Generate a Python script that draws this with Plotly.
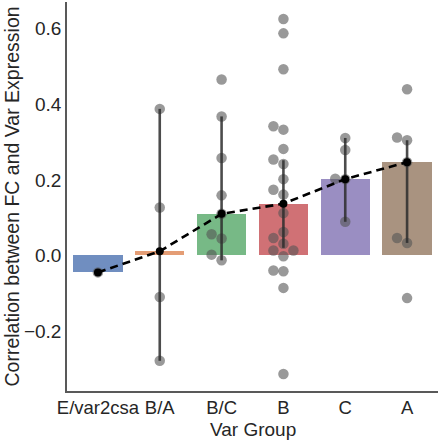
import plotly.graph_objects as go

categories = ["E/var2csa", "B/A", "B/C", "B", "C", "A"]

pts_e_var2csa = [-0.045]
pts_b_a = [0.388, 0.127, -0.110, -0.279]
pts_b_c = [0.466, 0.368, 0.258, 0.159, 0.110, 0.056, 0.045, 0.002, -0.013]
pts_b = [0.626, 0.588, 0.493, 0.342, 0.333, 0.282, 0.254, 0.242, 0.202, 0.174,
         0.161, 0.112, 0.062, 0.046, 0.031, 0.013, 0.013, -0.002, -0.040,
         -0.042, -0.086, -0.314]
pts_c = [0.311, 0.279, 0.203, 0.202, 0.089]
pts_a = [0.440, 0.312, 0.305, 0.247, 0.046, 0.033, -0.113]

group_points = [pts_e_var2csa, pts_b_a, pts_b_c, pts_b, pts_c, pts_a]

medians = [-0.045, 0.011, 0.110, 0.137, 0.202, 0.247]
ci_low = [None, -0.279, -0.013, 0.020, 0.089, 0.033]
ci_high = [None, 0.388, 0.368, 0.252, 0.311, 0.305]

bar_colors = ["rgba(76,114,176,0.8)", "rgba(221,132,82,0.8)", "rgba(85,168,104,0.8)",
              "rgba(196,78,82,0.8)", "rgba(129,114,179,0.8)", "rgba(147,120,96,0.8)"]

# layout constants
Y_RANGE = [-0.359, 0.671]
PLOT_W = 440 - 67 - 2
PLOT_H = 440 - 2 - 49
px_per_y = PLOT_H / (Y_RANGE[1] - Y_RANGE[0])
px_per_x = PLOT_W / 6.0
DIAM = 10.5


def swarm(values, center):
    placed = []
    order = sorted(range(len(values)), key=lambda i: values[i])
    xs = [0.0] * len(values)
    for i in order:
        y = values[i]
        for k in [0, -1, 1, -2, 2, -3, 3]:
            ox = k * 10.0
            ok = True
            for (px, py) in placed:
                dx = ox - px
                dy = (y - py) * px_per_y
                if dx * dx + dy * dy < 9.5 ** 2:
                    ok = False
                    break
            if ok:
                placed.append((ox, y))
                xs[i] = center + ox / px_per_x
                break
    return xs


fig = go.Figure()

fig.add_trace(go.Bar(
    x=list(range(len(categories))), y=medians, width=0.8,
    marker=dict(color=bar_colors, line=dict(width=0)), showlegend=False,
))

sx, sy = [], []
for i, vals in enumerate(group_points):
    sx += swarm(vals, i)
    sy += vals
fig.add_trace(go.Scatter(
    x=sx, y=sy, mode="markers",
    marker=dict(size=DIAM, color="rgba(85,85,85,0.6)", line=dict(width=0)),
    showlegend=False,
))

ex, ey = [], []
for i in range(len(categories)):
    if ci_low[i] is None:
        continue
    ex += [i, i, None]
    ey += [ci_low[i], ci_high[i], None]
fig.add_trace(go.Scatter(
    x=ex, y=ey, mode="lines",
    line=dict(color="rgba(45,45,45,0.85)", width=2.6), showlegend=False,
))

fig.add_trace(go.Scatter(
    x=list(range(len(categories))), y=medians, mode="lines+markers",
    line=dict(color="black", width=2.6, dash="8px,5px"),
    marker=dict(size=8, color="black"), showlegend=False,
))

font_family = "Liberation Sans, Arial, sans-serif"
text_color = "#262626"
fig.update_layout(
    width=440, height=440,
    margin=dict(l=67, r=2, t=2, b=49),
    plot_bgcolor="white", paper_bgcolor="white",
    font=dict(family=font_family, size=18.5, color=text_color),
    bargap=0,
    xaxis=dict(
        range=[-0.5, 5.5], tickmode="array", tickvals=list(range(len(categories))),
        ticktext=categories, showgrid=False, zeroline=False,
        showline=True, linecolor="#595959", linewidth=1.5, ticks="",
        tickfont=dict(size=18.5), ticklabelstandoff=-1,
    ),
    yaxis=dict(
        range=Y_RANGE, tickmode="array", tickvals=[-0.2, 0.0, 0.2, 0.4, 0.6],
        ticktext=["\u22120.2", "0.0", "0.2", "0.4", "0.6"],
        showgrid=False, zeroline=False,
        showline=True, linecolor="#595959", linewidth=1.5, ticks="",
        ticklabelstandoff=0, tickfont=dict(size=19),
    ),
    annotations=[
        dict(text="Var Group", xref="paper", yref="paper", x=0.5, y=0,
             xanchor="center", yanchor="middle", yshift=-38, showarrow=False,
             font=dict(size=19, family=font_family, color=text_color)),
        dict(text="Correlation between FC and Var Expression", xref="paper",
             yref="paper", x=0, y=0.5, xanchor="center", yanchor="middle",
             xshift=-56, textangle=-90, showarrow=False,
             font=dict(size=19.5, family=font_family, color=text_color)),
    ],
)

fig.write_html(
    "out.html",
    config={"displayModeBar": False},
    post_script="document.body.style.margin='0';document.body.style.overflow='hidden';",
)
